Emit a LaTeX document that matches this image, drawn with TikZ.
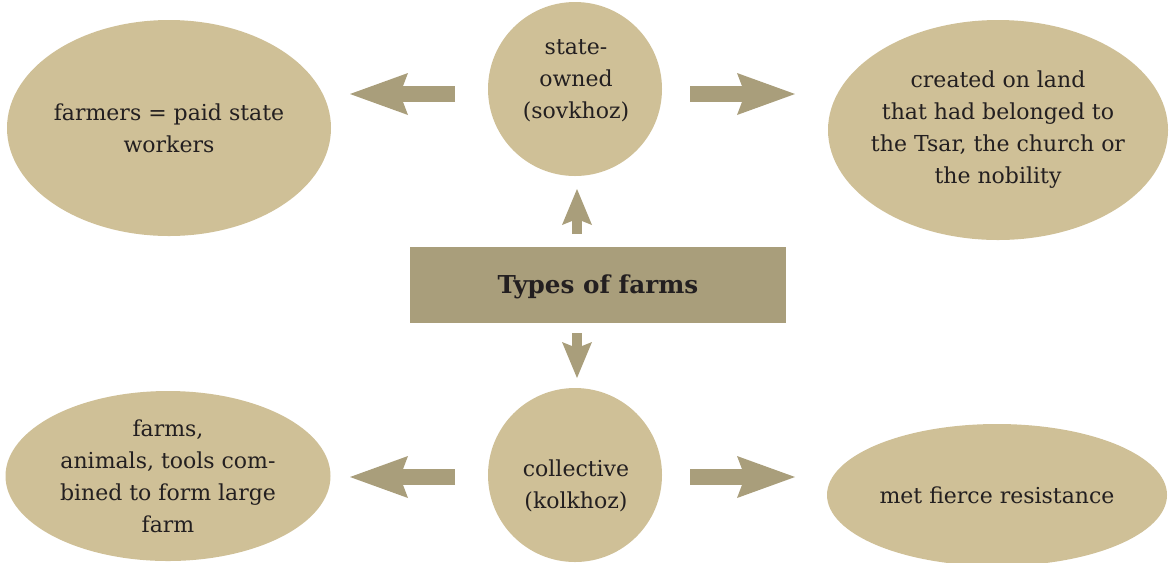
\documentclass[tikz,border=0pt]{standalone}
\usepackage{fontspec}
\setmainfont{DejaVu Serif}
\usetikzlibrary{shapes.geometric,arrows.meta}
\definecolor{tan}{HTML}{CFC097}
\definecolor{darktan}{HTML}{A99E7B}
\definecolor{ink}{HTML}{231F20}
\begin{document}
\begin{tikzpicture}[x=0.75pt,y=-0.75pt,
  blob/.style={ellipse,fill=tan,inner sep=0pt},
  roundnode/.style={circle,fill=tan,inner sep=0pt,minimum size=130.5pt},
  txt/.style={inner sep=0pt,align=center,text=ink,
    font=\fontsize{16.5pt}{24pt}\selectfont},
  fatarrow/.style={draw=darktan,line width=12pt,
    -{Stealth[length=43.5pt,width=31.5pt,inset=6pt,line width=0pt]}},
  thinarrow/.style={draw=darktan,line width=7pt,
    -{Stealth[length=27pt,width=22.5pt,inset=4.5pt,line width=0pt]}}]
\useasboundingbox (0,0) rectangle (1169,562);
% shapes
\node[blob,minimum width=243pt,minimum height=162pt] (fl) at (169,128) {};
\node[roundnode] (so) at (575,89) {};
\node[blob,minimum width=255pt,minimum height=165pt] (fr) at (998,130) {};
\node[fill=darktan,minimum width=282pt,minimum height=57pt,inner sep=0pt] (tf) at (598,285) {};
\node[roundnode] (ko) at (575,475) {};
\node[blob,minimum width=243.75pt,minimum height=127.5pt] (bl) at (168,476) {};
\node[blob,minimum width=255pt,minimum height=106.5pt] (br) at (997,495) {};
% texts
\node[txt] (flt) at (fl.center) {farmers = paid state\\workers};
\node[txt] (sot) at (576,81) {state-\\owned\\(sovkhoz)};
\node[txt] (frt) at (fr.center) {created on land\\that had belonged to\\the Tsar, the church or\\the nobility};
\node[txt,font=\fontsize{18.5pt}{24pt}\selectfont\bfseries] (tft) at (598,287) {Types of farms};
\node[txt] (kot) at (576,486) {collective\\(kolkhoz)};
\node[txt] (blt) at (bl.center) {farms,\\animals, tools com-\\bined to form large\\farm};
\node[txt] (brt) at (br.center) {met fierce resistance};
% arrow ends
\coordinate (a1s) at (455,94);  \coordinate (a1e) at (350,94);
\coordinate (a2s) at (690,94);  \coordinate (a2e) at (795,94);
\coordinate (a3s) at (455,477); \coordinate (a3e) at (350,477);
\coordinate (a4s) at (690,477); \coordinate (a4e) at (795,477);
\coordinate (a5s) at (577,234); \coordinate (a5e) at (577,189);
\coordinate (a6s) at (577,333); \coordinate (a6e) at (577,378);
\draw[fatarrow] (a1s) -- (a1e);
\draw[fatarrow] (a2s) -- (a2e);
\draw[fatarrow] (a3s) -- (a3e);
\draw[fatarrow] (a4s) -- (a4e);
\draw[thinarrow] (a5s) -- (a5e);
\draw[thinarrow] (a6s) -- (a6e);
\end{tikzpicture}
\end{document}
